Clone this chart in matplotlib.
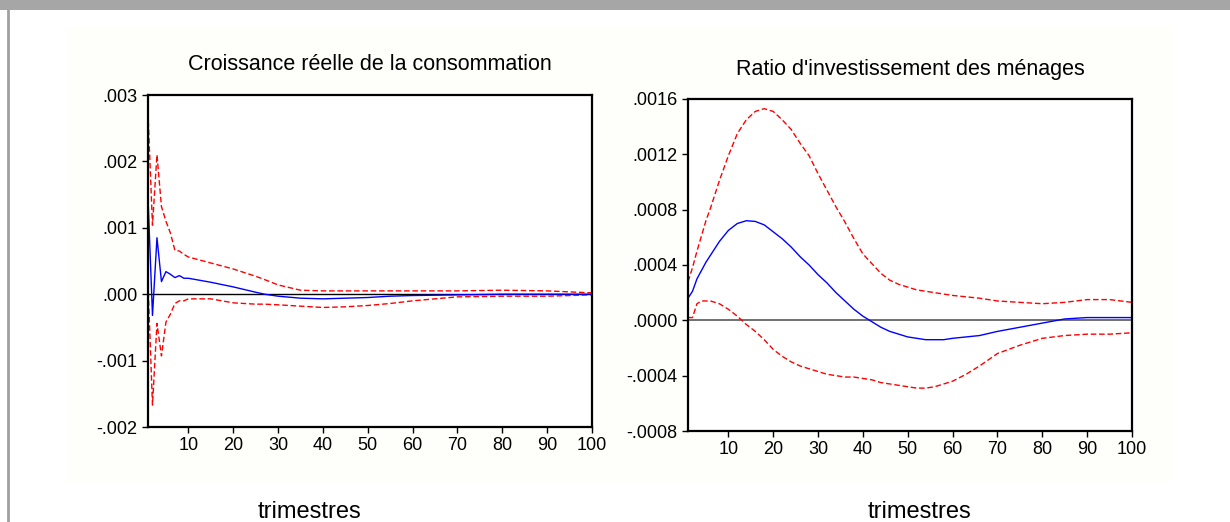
import numpy as np
import matplotlib.pyplot as plt
from matplotlib.patches import Rectangle
from matplotlib.lines import Line2D
from matplotlib.ticker import FuncFormatter

plt.rcParams['font.family'] = ['Liberation Sans', 'DejaVu Sans']

# Croissance reelle de la consommation
x_c = [1, 2, 3, 4, 5, 6, 7, 8, 9, 10, 15, 20, 25, 27, 30, 35, 40, 45, 50, 55, 60, 70, 80, 90, 100]
cons_mid = [0.00145, -0.00032, 0.00085, 0.00019, 0.00034, 0.00030, 0.00025, 0.00028, 0.00024, 0.00024,
            0.00018, 0.00011, 0.00003, 0.0, -0.00003, -0.00006, -0.00007, -0.00006, -0.00005,
            -0.00003, -0.00002, -0.00001, 0.0, 0.0, 0.0]
cons_up = [0.00273, 0.00104, 0.00210, 0.00132, 0.00110, 0.00092, 0.00066, 0.00065, 0.00060, 0.00056,
           0.00047, 0.00038, 0.00027, 0.00022, 0.00014, 0.00006, 0.00005, 0.00005, 0.00005,
           0.00005, 0.00005, 0.00005, 0.00006, 0.00005, 0.00002]
cons_lo = [0.00016, -0.00167, -0.00044, -0.00093, -0.00042, -0.00030, -0.00014, -0.00010, -0.00010, -0.00007,
           -0.00007, -0.00013, -0.00015, -0.00015, -0.00016, -0.00018, -0.00020, -0.00019, -0.00017,
           -0.00014, -0.00010, -0.00004, -0.00003, -0.00003, -0.00001]

# Ratio d'investissement des menages
x_i = [1, 2, 3, 4, 5, 6, 8, 10, 12, 14, 16, 18, 20, 22, 24, 26, 28, 30, 32, 34, 36, 38, 40, 42, 44,
       46, 48, 50, 52, 54, 56, 58, 60, 63, 66, 70, 75, 80, 85, 90, 95, 100]
inv_mid = [0.00016, 0.00021, 0.00030, 0.00036, 0.00042, 0.00047, 0.00057, 0.00065, 0.00070, 0.00072,
           0.000715, 0.00069, 0.00064, 0.00059, 0.00053, 0.00046, 0.00040, 0.00033, 0.00027, 0.00020,
           0.00014, 0.00008, 0.00003, -0.00001, -0.00005, -0.00008, -0.00010, -0.00012, -0.00013,
           -0.00014, -0.00014, -0.00014, -0.00013, -0.00012, -0.00011, -0.00008, -0.00005, -0.00002,
           0.00001, 0.00002, 0.00002, 0.00002]
inv_up = [0.00028, 0.00038, 0.00050, 0.00061, 0.00072, 0.00081, 0.00101, 0.00119, 0.00135, 0.00145,
          0.00151, 0.00153, 0.00151, 0.00145, 0.00138, 0.00128, 0.00119, 0.00106, 0.00094, 0.00082,
          0.00071, 0.00059, 0.00048, 0.00041, 0.00034, 0.00029, 0.00026, 0.00024, 0.00022, 0.00021,
          0.00020, 0.00019, 0.00018, 0.00017, 0.00016, 0.00014, 0.00013, 0.00012, 0.00013, 0.00015,
          0.00015, 0.00013]
inv_lo = [0.00002, 0.00002, 0.00012, 0.00014, 0.00014, 0.00014, 0.00012, 0.00008, 0.00003, -0.00003,
          -0.00008, -0.00014, -0.00021, -0.00026, -0.00030, -0.00033, -0.00035, -0.00037, -0.00039,
          -0.00040, -0.00041, -0.00041, -0.00042, -0.00043, -0.00045, -0.00046, -0.00047, -0.00048,
          -0.00049, -0.00049, -0.00048, -0.00046, -0.00044, -0.00039, -0.00033, -0.00024, -0.00018,
          -0.00013, -0.00011, -0.00010, -0.00010, -0.00009]

panels = [
    ('Croissance réelle de la consommation', x_c, cons_mid, cons_up, cons_lo,
     (-0.002, 0.003), np.arange(-0.002, 0.0031, 0.001), 3, 'black'),
    ("Ratio d'investissement des ménages", x_i, inv_mid, inv_up, inv_lo,
     (-0.0008, 0.0016), np.arange(-0.0008, 0.00161, 0.0004), 4, '#707070'),
]
boxes = [[148 / 1230, 1 - 427 / 522, 444 / 1230, 332 / 522],
         [688 / 1230, 1 - 431 / 522, 444 / 1230, 332 / 522]]
xlab_pos = [310 / 1230, 920 / 1230]

fig = plt.figure(figsize=(12.3, 5.22), dpi=100)
fig.patch.set_facecolor('white')
fig.patches.append(Rectangle((67 / 1230, 1 - 482 / 522), 1105 / 1230, 455 / 522,
                             transform=fig.transFigure, facecolor='#fefefa', edgecolor='none', zorder=-2))
fig.patches.append(Rectangle((0, 1 - 10 / 522), 1, 10 / 522, transform=fig.transFigure,
                             facecolor='#a6a6a6', edgecolor='none', zorder=-2))
fig.lines.append(Line2D([8 / 1230, 8 / 1230], [0, 1 - 10 / 522], transform=fig.transFigure,
                        color='#a0a0a0', linewidth=2, zorder=-2))


def fmt_factory(nd):
    def f(v, pos):
        s = f'{abs(v):.{nd}f}'.lstrip('0')
        return ('-' if v < -1e-12 else '') + s
    return FuncFormatter(f)


for i, (title, xs, mid, up, lo, ylim, yt, nd, zc) in enumerate(panels):
    ax = fig.add_axes(boxes[i])
    ax.set_zorder(1)
    ax.set_facecolor('white')
    ax.axhline(0, color=zc, linewidth=1.0 if i == 0 else 1.4, zorder=1)
    ax.plot(xs, up, color='red', linestyle=(0, (4, 2)), linewidth=1)
    ax.plot(xs, lo, color='red', linestyle=(0, (4, 2)), linewidth=1)
    ax.plot(xs, mid, color='blue', linewidth=1)
    ax.set_xlim(1, 100)
    ax.set_ylim(*ylim)
    ax.set_xticks(range(10, 101, 10))
    ax.set_yticks(yt)
    ax.yaxis.set_major_formatter(fmt_factory(nd))
    ax.tick_params(direction='out', length=4.5, width=1, labelsize=13, pad=3)
    for sp in ax.spines.values():
        sp.set_linewidth(1.6)
    ax.set_title(title, fontsize=15.5, pad=18 if i == 0 else 17)
    fig.text(xlab_pos[i], 1 - 512 / 522, 'trimestres', fontsize=17, ha='center', va='center')

fig.savefig('out.png', dpi=100)
